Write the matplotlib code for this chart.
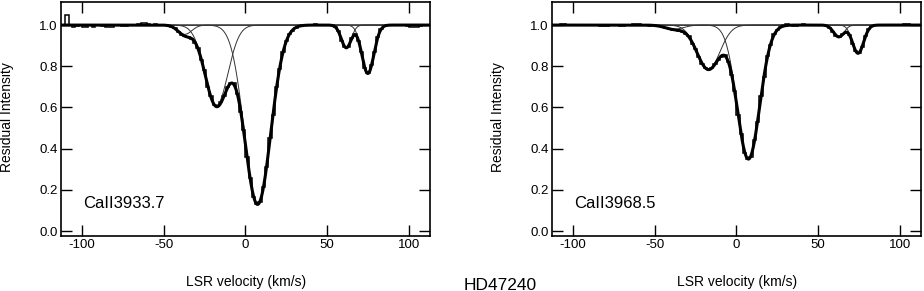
import matplotlib
matplotlib.use('Agg')
import matplotlib.pyplot as plt
import numpy as np

plt.rcParams['font.family'] = ['Liberation Sans', 'DejaVu Sans']
plt.rcParams['axes.unicode_minus'] = False

# observed spectra, 2 km/s bins, centres -111 ... 109
bin_edges = np.arange(-112, 111, 2)

obs_k = [1.0,
         1.05, 1.0, 0.99, 0.995, 1.0, 0.99, 0.992, 1.0, 0.993, 1.0,
         1.0, 0.997, 0.99, 0.99, 0.99, 1.0, 0.998, 0.996, 0.995, 1.0,
         1.0, 1.002, 1.006, 1.01, 1.01, 1.006, 1.0, 1.004, 1.002, 1.0,
         0.998, 0.996, 0.99, 0.985, 0.965, 0.95, 0.948, 0.94, 0.93, 0.915,
         0.89, 0.83, 0.78, 0.70, 0.655, 0.61, 0.605, 0.625, 0.655, 0.70,
         0.72, 0.72, 0.665, 0.58, 0.49, 0.36, 0.26, 0.165, 0.13, 0.14,
         0.215, 0.31, 0.45, 0.565, 0.70, 0.785, 0.87, 0.925, 0.955, 0.97,
         0.985, 0.995, 1.0, 1.002, 1.0, 1.0, 1.003, 1.0, 1.0, 1.0,
         1.002, 1.0, 0.99, 0.97, 0.925, 0.895, 0.895, 0.935, 0.955, 0.925,
         0.87, 0.79, 0.765, 0.805, 0.87, 0.94, 0.98, 0.995, 1.0, 1.0,
         1.002, 1.0, 1.0, 1.0, 0.995, 0.99, 0.992, 0.99, 0.997, 1.0]

obs_h = [1.0,
         1.0, 1.003, 1.005, 1.002, 1.0, 1.0, 0.998, 0.998, 1.0, 1.0,
         0.998, 1.0, 1.0, 0.997, 0.994, 0.995, 1.0, 1.0, 0.998, 0.995,
         0.994, 1.0, 1.0, 1.003, 1.005, 1.004, 1.0, 0.998, 0.996, 0.998,
         0.997, 0.994, 0.99, 0.987, 0.98, 0.978, 0.975, 0.972, 0.965, 0.958,
         0.945, 0.91, 0.885, 0.845, 0.81, 0.79, 0.785, 0.79, 0.812, 0.83,
         0.845, 0.855, 0.82, 0.76, 0.68, 0.565, 0.47, 0.38, 0.35, 0.36,
         0.44, 0.53, 0.655, 0.75, 0.85, 0.905, 0.955, 0.975, 0.99, 1.0,
         1.003, 1.0, 0.995, 0.997, 1.0, 1.004, 1.002, 1.0, 1.0, 0.998,
         1.0, 0.998, 0.995, 0.985, 0.965, 0.945, 0.942, 0.955, 0.963, 0.95,
         0.91, 0.875, 0.865, 0.895, 0.948, 0.98, 0.995, 1.0, 1.0, 1.002,
         1.0, 1.0, 0.998, 1.0, 1.0, 1.0, 1.003, 1.005, 1.0, 1.0]

# fitted components: centre (km/s), depth, width (km/s)
cen_k = [-37.0, -17.7, 7.5, 61.7, 74.9]
dep_k = [0.045, 0.39, 0.87, 0.11, 0.235]
wid_k = [6.0, 9.9, 11.3, 4.3, 5.2]

cen_h = [-38.0, -17.1, 7.4, 62.6, 74.4]
dep_h = [0.02, 0.215, 0.65, 0.057, 0.137]
wid_h = [8.0, 10.0, 9.7, 4.5, 4.8]

panels = [
    ('CaII3933.7', obs_k, cen_k, dep_k, wid_k, 61),
    ('CaII3968.5', obs_h, cen_h, dep_h, wid_h, 552),
]

W, H = 924, 291
fig = plt.figure(figsize=(W / 100, H / 100), dpi=100)

xlim = (-112.7, 112.9)
v = np.linspace(xlim[0], xlim[1], 1500)

for name, obs, cen, dep, wid, x0 in panels:
    ax = fig.add_axes([x0 / W, 1 - 236 / H, 369 / W, 234 / H])
    fit = np.ones_like(v)
    for c, d, s in zip(cen, dep, wid):
        comp = d * np.exp(-((v - c) / s) ** 2)
        ax.plot(v, 1 - comp, color='#333333', lw=0.7)
        fit -= comp
    ax.stairs(obs, bin_edges, baseline=None, color='k', lw=1.1)
    ax.plot(v, fit, color='k', lw=2.2)

    ax.set_xlim(*xlim)
    ax.set_ylim(-0.024, 1.112)
    ax.set_xticks([-100, -50, 0, 50, 100])
    ax.set_yticks([0.0, 0.2, 0.4, 0.6, 0.8, 1.0])
    ax.set_yticklabels(['0.0', '0.2', '0.4', '0.6', '0.8', '1.0'])
    ax.tick_params(direction='in', length=8, width=1.0, top=True, right=True,
                   labelsize=9.5, pad=2.5)
    for sp in ax.spines.values():
        sp.set_linewidth(1.2)
    ax.text(0.06, 0.14, name, transform=ax.transAxes, fontsize=12, va='center')

    fig.text((x0 - 54) / W, 1 - 117 / H, 'Residual Intensity', rotation=90,
             ha='center', va='center', fontsize=10)
    fig.text((x0 + 185) / W, 1 - 282 / H, 'LSR velocity (km/s)',
             ha='center', va='center', fontsize=10)

fig.text(500 / W, 1 - 285 / H, 'HD47240', ha='center', va='center', fontsize=12.5)

fig.savefig('out.png', dpi=100)
